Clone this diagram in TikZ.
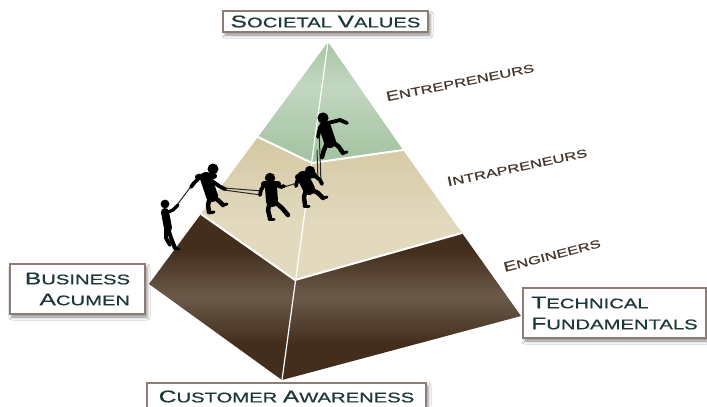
\documentclass[tikz,border=0pt]{standalone}
\usepackage{fontspec}
\newfontfamily\cop[FakeStretch=1.45,FakeBold=0.6]{Liberation Sans}
\usetikzlibrary{shadows.blur}
\definecolor{txt}{HTML}{1C3838}
\definecolor{lbl}{HTML}{45352A}
\definecolor{boxc}{HTML}{8C7E75}
\definecolor{gD}{HTML}{A7C5A4}
\definecolor{gL}{HTML}{C2D7C0}
\definecolor{bD}{HTML}{D4C7A2}
\definecolor{bL}{HTML}{E2D9BE}
\definecolor{brD}{HTML}{432E1D}
\definecolor{brL}{HTML}{6B5A4A}
\pgfdeclareverticalshading{brband}{100bp}{color(0bp)=(brD); color(36bp)=(brD); color(50bp)=(brL); color(64bp)=(brD); color(100bp)=(brD)}
\pgfdeclareverticalshading{gband}{100bp}{color(0bp)=(gD); color(30bp)=(gD); color(57bp)=(gL); color(75bp)=(gD); color(100bp)=(gD)}
\pgfdeclareverticalshading{bband}{100bp}{color(0bp)=(bL); color(25bp)=(bL); color(45bp)=(bL); color(75bp)=(bD); color(100bp)=(bD)}
\newcommand\BC[1]{{\fontsize{17}{17}\selectfont #1}}
\newcommand\RC[1]{{\fontsize{13.5}{13.5}\selectfont #1}}
\tikzset{
  lbox/.style={draw=boxc, line width=1.5bp, fill=white, text=txt, inner sep=0pt,
    blur shadow={shadow xshift=2bp, shadow yshift=-3bp, shadow blur radius=3bp, shadow opacity=45},
    font=\cop\fontsize{14}{21}\selectfont},
  rlbl/.style={text=lbl, inner sep=0pt, font=\cop\fontsize{11.5}{11.5}\selectfont},
  sep/.style={draw=white, line width=2bp},
  edge/.style={draw=white, line width=1.2bp},
  limb/.style={draw=black, line cap=round, line join=round, line width=4.5bp},
  arm/.style={draw=black, line cap=round, line join=round, line width=3.8bp},
  body/.style={draw=black, line cap=round, line join=round, line width=12bp},
  rope/.style={draw=black!85, line width=1bp}
}
\begin{document}
\begin{tikzpicture}[x=1bp, y=-1bp]
\useasboundingbox (0,0) rectangle (707,406);
\fill[white] (0,0) rectangle (707,406);
% pyramid corners
\coordinate (A) at (328,42);
\coordinate (G1) at (258,137);
\coordinate (G2) at (312,163);
\coordinate (G3) at (403,150);
\coordinate (B1) at (201,214);
\coordinate (B2) at (295,280);
\coordinate (B3) at (462,233);
\coordinate (C1) at (149,284);
\coordinate (C2) at (282,380);
\coordinate (C3) at (521,316);
\path[shading=gband] (A) -- (G1) -- (G2) -- (G3) -- cycle;
\path[shading=bband] (G1) -- (G2) -- (G3) -- (B3) -- (B2) -- (B1) -- cycle;
\path[shading=brband] (B1) -- (B2) -- (B3) -- (C3) -- (C2) -- (C1) -- cycle;
\draw[sep] (G1) -- (G2) -- (G3);
\draw[sep] (B1) -- (B2) -- (B3);
\draw[edge] (A) -- (C2);
% ropes
\draw[rope] (192,185) -- (177,205);
\draw[rope] (224,188) -- (262,191);
\draw[rope] (224,190) .. controls (242,193) .. (261,195);
\draw[rope] (284,187) -- (297,183);
\draw[rope] (321,183) -- (319,128);
\draw[rope] (317,150) -- (318,180);
% climber 1
\fill (165,204) circle (4.4);
\draw[body, line width=8bp] (165,212) -- (168,228);
\draw[arm, line width=3.3bp] (166,213) -- (173,210) -- (178,205);
\draw[limb, line width=4bp] (168,228) -- (171,238) -- (175,248);
\draw[limb, line width=3.8bp] (166,228) -- (166,238) -- (170,245);
\draw[limb, line width=2.8bp] (174,248) -- (179,249);
% climber 2
\fill (213,169) circle (5.5);
\draw[body] (206,178) -- (212,196);
\draw[body, line width=6bp] (198,177) -- (214,176);
\draw[arm] (199,178) -- (194,183) -- (191,187);
\draw[arm] (212,181) -- (219,186) -- (225,189);
\draw[limb] (210,197) -- (208,205) -- (209,212);
\draw[limb] (214,197) -- (219,201) -- (223,205);
\draw[limb, line width=3bp] (209,213) -- (214,212);
\draw[limb, line width=3bp] (223,205) -- (227,204);
% climber 3
\fill (270,178) circle (5.2);
\draw[body] (271,187) -- (272,201);
\draw[body, line width=6bp] (264,184) -- (278,184);
\draw[arm] (264,185) -- (261,190) -- (260,195);
\draw[arm] (277,185) -- (281,187) -- (284,186);
\draw[limb] (270,202) -- (268,210) -- (270,218);
\draw[limb] (275,202) -- (282,208) -- (288,215);
\draw[limb, line width=3bp] (269,219) -- (274,219);
% climber 4
\fill (310,171) circle (5.2);
\draw[body] (303,177) -- (309,189);
\draw[body, line width=6bp] (298,177) -- (314,175);
\draw[arm] (298,178) -- (296,186);
\draw[arm] (315,176) -- (320,180) -- (322,184);
\draw[limb] (306,190) -- (304,197) -- (305,205);
\draw[limb] (312,190) -- (318,193) -- (323,198);
\draw[limb, line width=3bp] (304,206) -- (309,206);
\draw[limb, line width=3bp] (323,198) -- (327,197);
% climber 5
\fill (323,118) circle (5.6);
\draw[body] (325,127) -- (330,142);
\draw[arm] (328,123) -- (340,120) -- (347,123);
\draw[arm] (320,127) -- (318,137);
\draw[limb] (327,143) -- (324,150) -- (322,157);
\draw[limb] (333,142) -- (339,147) -- (343,153);
\draw[limb, line width=3bp] (343,153) -- (347,152);
% rotated labels
\node[rlbl, rotate=11.3] (ent) at (460,82) {\RC{E}NTREPRENEURS};
\node[rlbl, rotate=12] (intra) at (517,167) {\RC{I}NTRAPRENEURS};
\node[rlbl, rotate=14.5] (eng) at (552,255) {\RC{E}NGINEERS};
% boxes
\node[lbox, minimum width=205bp, minimum height=21bp] (sv) at (325.5,21.5) {\BC{S}OCIETAL \BC{V}ALUES};
\node[lbox, minimum width=135bp, minimum height=50bp, align=right] (ba) at (77.5,289) {\BC{B}USINESS\\\BC{A}CUMEN};
\node[lbox, minimum width=183bp, minimum height=50bp, align=left] (tf) at (614.5,313) {\BC{T}ECHNICAL\\\BC{F}UNDAMENTALS};
\node[lbox, minimum width=279bp, minimum height=27bp] (ca) at (286.5,396.5) {\BC{C}USTOMER \BC{A}WARENESS};
\end{tikzpicture}
\end{document}
